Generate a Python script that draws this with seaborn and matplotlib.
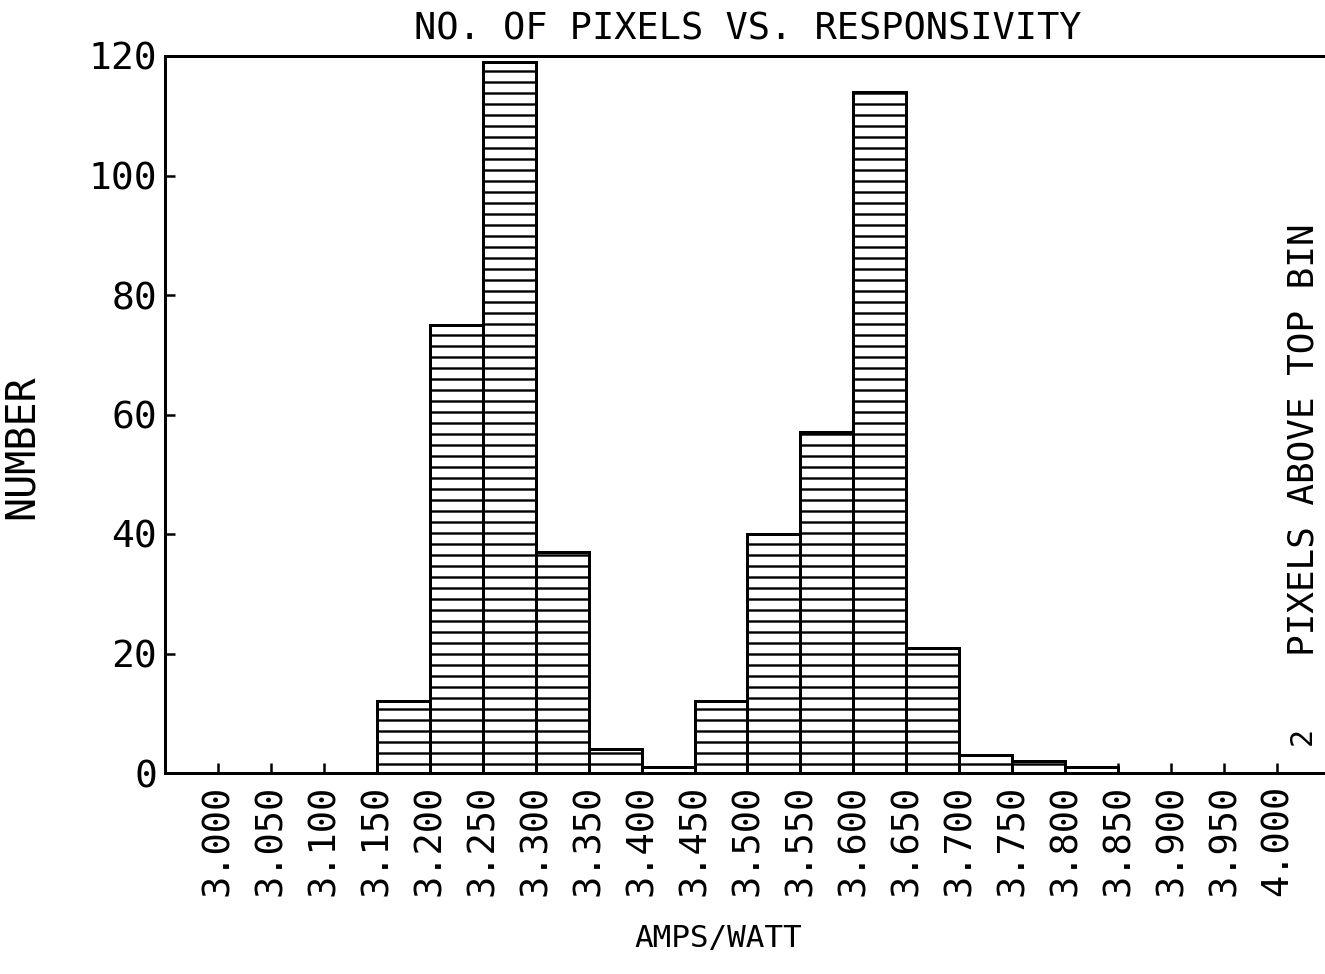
import matplotlib
matplotlib.use("Agg")
import matplotlib.pyplot as plt
import seaborn as sns

# Responsivity histogram: lower bin edges (A/W) and pixel counts per bin
bin_lo = [3.15, 3.20, 3.25, 3.30, 3.35, 3.40, 3.45, 3.50, 3.55, 3.60, 3.65, 3.70, 3.75, 3.80]
counts = [12, 75, 119, 37, 4, 1, 12, 40, 57, 114, 21, 3, 2, 1]
bin_width = 0.05
pixels_above_top = 2

x_ticks = [3.00, 3.05, 3.10, 3.15, 3.20, 3.25, 3.30, 3.35, 3.40, 3.45, 3.50,
           3.55, 3.60, 3.65, 3.70, 3.75, 3.80, 3.85, 3.90, 3.95, 4.00]
x_tick_labels = [f"{v:.3f}" for v in x_ticks]
y_ticks = [0, 20, 40, 60, 80, 100, 120]

title = "NO. OF PIXELS VS. RESPONSIVITY"
x_label = "AMPS/WATT"
y_label = "NUMBER"
right_label = "PIXELS ABOVE TOP BIN"

DPI = 66.25
W, H = 1325, 974
PT = 72.0 / DPI  # points per pixel

sns.set_style("white")
plt.rcParams["font.family"] = ["DejaVu Sans Mono", "DejaVu Sans"]
plt.rcParams["hatch.linewidth"] = 2.4 * PT
plt.rcParams["hatch.color"] = "black"

fig = plt.figure(figsize=(W / DPI, H / DPI), dpi=DPI)
fig.patch.set_facecolor("white")

# axes box in pixels: left 165, right 1330, top 56, bottom 773
ax_l, ax_r, ax_t, ax_b = 165, 1330, 56, 773
ax = fig.add_axes([ax_l / W, 1 - ax_b / H, (ax_r - ax_l) / W, (ax_b - ax_t) / H])

edges = bin_lo + [round(bin_lo[-1] + bin_width, 3)]
centers = [b + bin_width / 2 for b in bin_lo]
sns.histplot(x=centers, weights=counts, bins=edges, ax=ax, stat="count",
             element="bars", fill=True, facecolor="white", edgecolor="black",
             linewidth=3 * PT, hatch="-", alpha=1)

ax.set_xlim(2.95, 4.05)
ax.set_ylim(0, 120)

ax.set_xticks(x_ticks)
ax.set_xticklabels(x_tick_labels, rotation=90, fontsize=37 * PT)
ax.set_yticks(y_ticks)
ax.set_yticklabels([str(v) for v in y_ticks], fontsize=38 * PT)
ax.tick_params(axis="x", direction="in", length=10 * PT, width=2.5 * PT,
               pad=12 * PT, colors="black", bottom=True)
ax.tick_params(axis="y", direction="in", length=10 * PT, width=2.5 * PT,
               pad=8 * PT, colors="black", left=True)

for side in ["left", "bottom", "top"]:
    ax.spines[side].set_visible(True)
    ax.spines[side].set_color("black")
    ax.spines[side].set_linewidth(3 * PT)
ax.spines["right"].set_visible(False)

ax.set_title(title, fontsize=37 * PT, pad=16 * PT, color="black")

ax_w, ax_h = ax_r - ax_l, ax_b - ax_t
ax.set_xlabel(x_label, fontsize=31 * PT, color="black")
ax.xaxis.set_label_coords((718 - ax_l) / ax_w, (ax_b - 924) / ax_h)
ax.set_ylabel(y_label, fontsize=40 * PT, color="black")
ax.yaxis.set_label_coords((42 - ax_l) / ax_w, (ax_b - 447) / ax_h)

ax.text((1304 - ax_l) / ax_w, (ax_b - 440) / ax_h, right_label,
        transform=ax.transAxes, rotation=90, ha="center", va="center",
        fontsize=36 * PT, color="black")
ax.text((1302 - ax_l) / ax_w, (ax_b - 736) / ax_h, str(pixels_above_top),
        transform=ax.transAxes, rotation=90, ha="center", va="center",
        fontsize=30 * PT, color="black")

fig.savefig("out.png", dpi=DPI, facecolor="white")
